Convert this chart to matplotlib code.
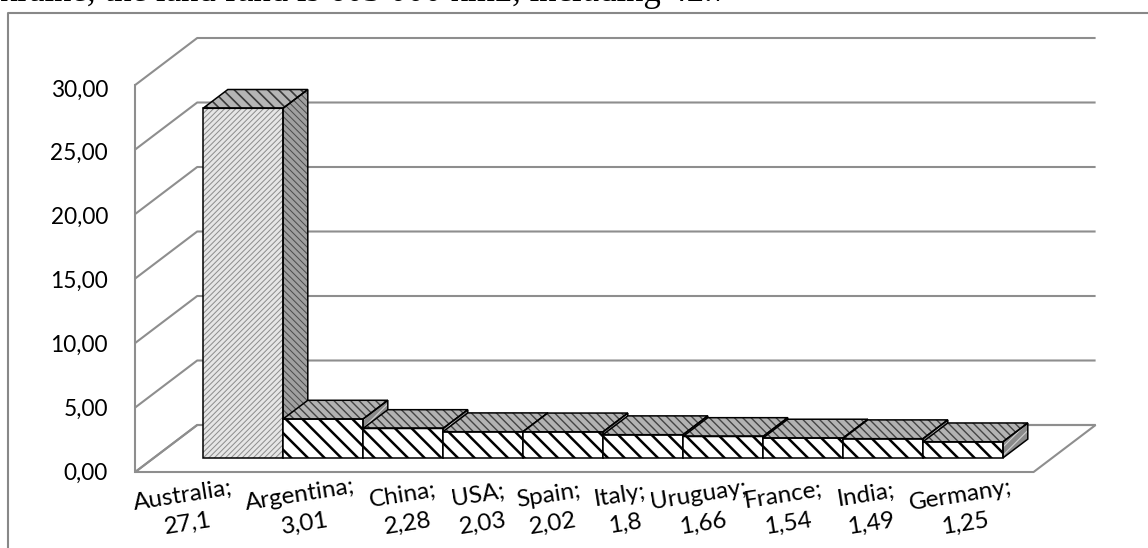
import matplotlib
matplotlib.use("Agg")
import matplotlib as mpl
import matplotlib.pyplot as plt
from matplotlib.patches import Polygon
from matplotlib.lines import Line2D

# ---- data -------------------------------------------------------------
countries = ["Australia", "Argentina", "China", "USA", "Spain",
             "Italy", "Uruguay", "France", "India", "Germany"]
values = [27.1, 3.01, 2.28, 2.03, 2.02, 1.8, 1.66, 1.54, 1.49, 1.25]
y_ticks = [0, 5, 10, 15, 20, 25, 30]
headline = "kraine, the land fund is 603 000 km2, including 42.7"

# ---- figure / projection ---------------------------------------------
W, H = 1148, 548
fig = plt.figure(figsize=(W / 100, H / 100), dpi=100)
ax = fig.add_axes([0, 0, 1, 1])

PX_X, PX_Y = 80.0, 12.9          # pixels per category / per value unit
X0, Y0 = 224.4, 472.0            # origin of the front plane
ax.set_xlim(-X0 / PX_X, (W - X0) / PX_X)
ax.set_ylim(-(H - Y0) / PX_Y, Y0 / PX_Y)
ax.axis("off")

DEPTH = (62 / PX_X, 47 / PX_Y)   # oblique depth vector (full depth)


def P(x, v, d):
    """Project (category x, value v, depth d in 0..1) onto the axes."""
    return (x + DEPTH[0] * d, v + DEPTH[1] * d)


def face(pts, fc, hatch=None, hatch_color="black", hatch_lw=1.0,
         ec="black", lw=1.1, z=3):
    if hatch:
        mpl.rcParams["hatch.linewidth"] = hatch_lw
        hp = Polygon(pts, closed=True, facecolor=fc, edgecolor=hatch_color,
                     hatch=hatch, lw=0, zorder=z)
        if hasattr(hp, "set_hatch_linewidth"):
            hp.set_hatch_linewidth(hatch_lw)
        ax.add_patch(hp)
        ax.add_patch(Polygon(pts, closed=True, facecolor="none",
                             edgecolor=ec, lw=lw, zorder=z + 0.01))
    else:
        ax.add_patch(Polygon(pts, closed=True, facecolor=fc,
                             edgecolor=ec, lw=lw, zorder=z))


n = len(values)
margin = 0.615
xl, xr = -0.5 - margin, n - 0.5 + margin
grid_c = "#8e8e8e"

# floor
ax.add_patch(Polygon([P(xl, 0, 0), P(xr, 0, 0), P(xr, 0, 1), P(xl, 0, 1)],
                     closed=True, facecolor="white", edgecolor=grid_c,
                     lw=1.5, zorder=1))
# side wall / back wall gridlines
for t in y_ticks:
    pts = [P(xl, t, 0), P(xl, t, 1), P(xr, t, 1)]
    ax.plot([p[0] for p in pts], [p[1] for p in pts], color=grid_c,
            lw=1.5, zorder=1, solid_capstyle="butt")
fx = [P(xl, 0, 0), P(xl, max(y_ticks), 0)]
ax.plot([p[0] for p in fx], [p[1] for p in fx], color=grid_c, lw=1.5, zorder=1)

# y tick labels
for t in y_ticks:
    ax.text(-1.455, t * 0.99 - 0.08, f"{t:.2f}".replace(".", ","),
            ha="right", va="center", fontsize=16.3, family="Lato",
            color="black")

# bars
d0, d1 = 0.3, 0.7
for i, v in enumerate(values):
    x0, x1 = i - 0.5, i + 0.5
    z = 3 + i
    front = [P(x0, 0, d0), P(x1, 0, d0), P(x1, v, d0), P(x0, v, d0)]
    top = [P(x0, v, d0), P(x1, v, d0), P(x1, v, d1), P(x0, v, d1)]
    side = [P(x1, 0, d0), P(x1, 0, d1), P(x1, v, d1), P(x1, v, d0)]
    if i == 0:
        face(side, "#a0a0a0", "\\\\\\\\\\", "#4a4a4a", 0.7, z=z)
        face(top, "#b5b5b5", "\\\\\\", "#3a3a3a", 1.2, z=z)
        face(front, "#e6e6e6", "//////", "#8c8c8c", 0.7, z=z)
    else:
        face(side, "#8a8a8a", "////", "#d0d0d0", 0.8, z=z)
        face(top, "#b3b3b3", "\\\\\\\\", "#444444", 1.0, z=z)
        face(front, "white", "\\\\", "black", 1.8, z=z)

# category labels
nudge_px = [-39, -2, 21, 16, 6, -2, -4, 1, 4, 18]
for i, (c, v) in enumerate(zip(countries, values)):
    lab = f"{c};\n{str(v).replace('.', ',')}"
    ax.text(i + nudge_px[i] / PX_X, -2.9, lab, ha="center", va="center",
            rotation=9, rotation_mode="anchor", fontsize=17.5, family="Lato",
            linespacing=1.45, multialignment="center")

# chart frame and text above it
fig.add_artist(Line2D([8 / W, 8 / W, 1.0], [0, 1 - 13 / H, 1 - 13 / H],
                      transform=fig.transFigure, color="#888888", lw=1.5))
fig.text(0.0, 1 - 1 / H, headline, ha="left", va="baseline",
         fontsize=25, family="Liberation Serif")

fig.savefig("out.png", dpi=100)
